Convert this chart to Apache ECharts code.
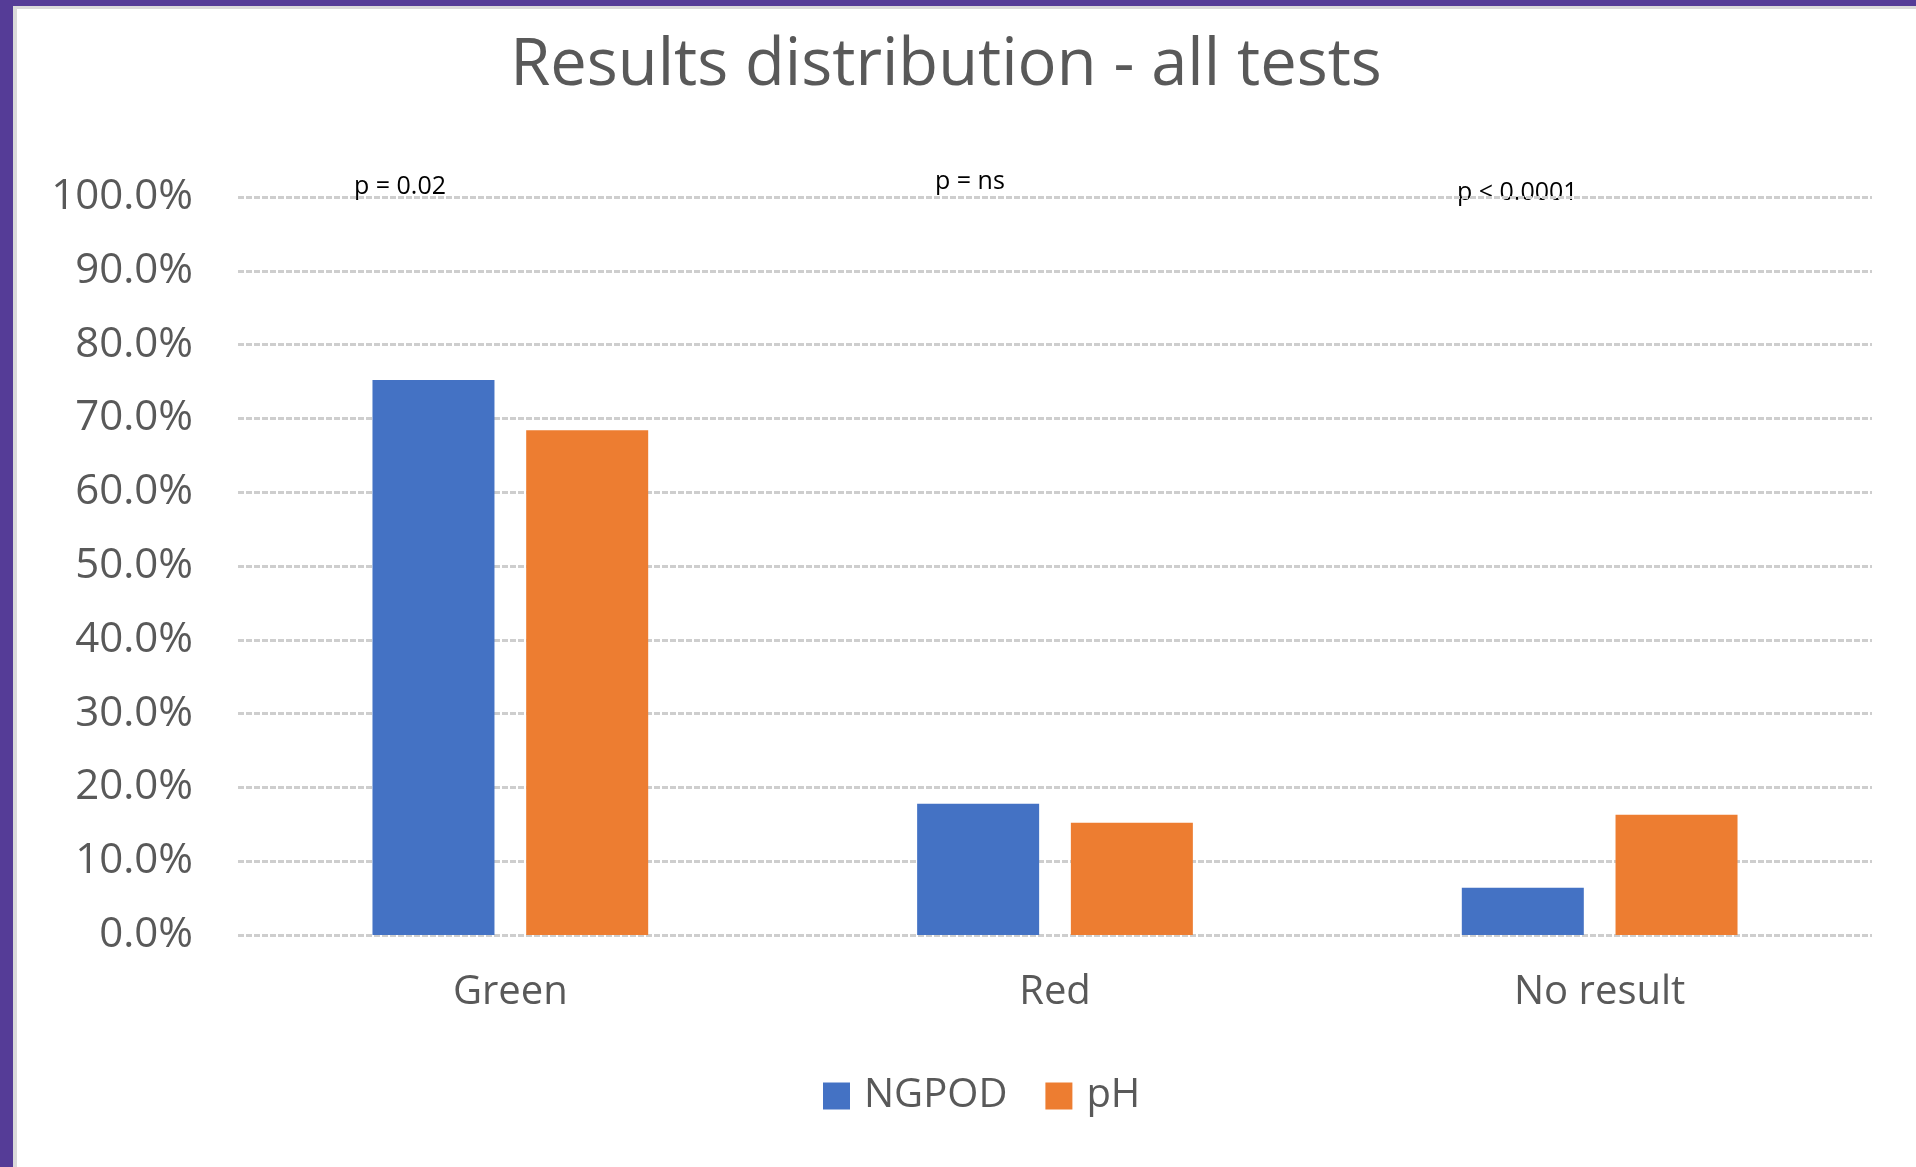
<!DOCTYPE html>
<html>
<head>
<meta charset="utf-8">
<script src="https://cdn.jsdelivr.net/npm/echarts@6/dist/echarts.min.js"></script>
<style>
  html, body { margin: 0; padding: 0; background: #fff; }
  #chart { position: absolute; left: 0; top: 0; width: 1916px; height: 1167px; }
  .edge { position: absolute; pointer-events: none; }
</style>
</head>
<body>
<div id="chart"></div>
<div class="edge" style="left:0;top:0;width:1916px;height:6px;background:#553c97"></div>
<div class="edge" style="left:0;top:0;width:13px;height:1167px;background:#553c97"></div>
<div class="edge" style="left:13px;top:6px;width:1903px;height:3px;background:#dadada"></div>
<div class="edge" style="left:13px;top:6px;width:4px;height:1161px;background:#dadada"></div>
<script>
  var categories = ['Green', 'Red', 'No result']
  var seriesNames = ['NGPOD', 'pH']
  var ngpodValues = [0.752, 0.178, 0.064]
  var phValues = [0.684, 0.152, 0.163]
  var pLabels = ['p = 0.02', 'p = ns', 'p < 0.0001']

  var font = '"Open Sans", "Noto Sans", sans-serif'
  var grayText = '#595959'

  var chart = echarts.init(document.getElementById('chart'))
  chart.setOption({
    animation: false,
    title: {
      text: 'Results distribution - all tests',
      left: 941,
      textAlign: 'center',
      top: 29,
      textStyle: {
        fontFamily: font,
        fontSize: 65,
        fontWeight: 'normal',
        color: grayText
      }
    },
    legend: {
      data: seriesNames,
      left: 818,
      top: 1071,
      itemWidth: 27,
      itemHeight: 27,
      itemGap: 38,
      icon: 'rect',
      textStyle: {
        fontFamily: font,
        fontSize: 40,
        lineHeight: 40,
        color: grayText,
        padding: [0, 0, 0, 9]
      }
    },
    grid: {
      left: 238,
      right: 44,
      top: 197,
      bottom: 232,
      containLabel: false
    },
    xAxis: {
      type: 'category',
      data: categories,
      axisLine: { show: false },
      axisTick: { show: false },
      axisLabel: {
        margin: 38,
        fontFamily: font,
        fontSize: 40,
        color: grayText
      }
    },
    yAxis: {
      type: 'value',
      min: 0,
      max: 1,
      interval: 0.1,
      axisLine: { show: false },
      axisTick: { show: false },
      axisLabel: {
        margin: 45,
        fontFamily: font,
        fontSize: 42,
        color: grayText,
        formatter: function (v) {
          return (v * 100).toFixed(1) + '%'
        }
      },
      splitLine: {
        lineStyle: {
          color: '#cecece',
          width: 3,
          type: [6, 2]
        }
      }
    },
    series: [
      {
        name: seriesNames[0],
        type: 'bar',
        data: ngpodValues,
        barWidth: 122,
        barGap: '26%',
        itemStyle: { color: '#4472c4' }
      },
      {
        name: seriesNames[1],
        type: 'bar',
        data: phValues,
        barWidth: 122,
        itemStyle: { color: '#ed7d31' }
      }
    ],
    graphic: [
      // p value notes above the 100% line
      { type: 'text', left: 354, top: 174, style: { text: pLabels[0], font: '25px ' + font, fill: '#000' } },
      { type: 'text', left: 935, top: 169, style: { text: pLabels[1], font: '25px ' + font, fill: '#000' } },
      { type: 'text', left: 1457, top: 180, style: { text: pLabels[2], font: '25px ' + font, fill: '#000' } }
    ]
  })
</script>
</body>
</html>
